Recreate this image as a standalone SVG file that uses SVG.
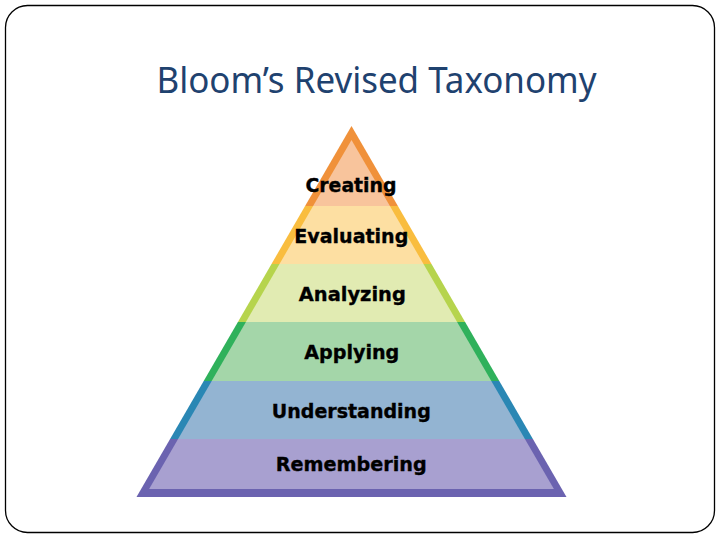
<svg xmlns="http://www.w3.org/2000/svg" width="720" height="540" viewBox="0 0 720 540">
<style>
.lbl{font-family:"DejaVu Sans",Verdana,sans-serif;font-weight:bold;font-size:19.5px;fill:#000;stroke:#000;stroke-width:0.35;text-anchor:middle}
.title{font-family:"Noto Sans","Open Sans",sans-serif;font-size:36px;fill:#1F426F;text-anchor:middle}
</style>
<rect x="5.5" y="5.5" width="709" height="527" rx="22" ry="22" fill="#fff" stroke="#000" stroke-width="1.3"/>
<text class="title" x="376.5" y="92.5" textLength="440" lengthAdjust="spacingAndGlyphs">Bloom’s Revised Taxonomy</text>
<g id="pyramid">
<g id="creating">
<polygon points="351.5,126 397.9,206 305.1,206" fill="#F0913A"/>
<polygon points="351.5,140 389.9,206 313.1,206" fill="#F8C49C"/>
<text class="lbl" x="351" y="192" textLength="91" lengthAdjust="spacingAndGlyphs">Creating</text>
</g>
<g id="evaluating">
<polygon points="305.1,206 397.9,206 431.5,264 271.5,264" fill="#F9BD3F"/>
<polygon points="313.1,206 389.9,206 423.5,264 279.5,264" fill="#FDDFA2"/>
<text class="lbl" x="351.3" y="243" textLength="114" lengthAdjust="spacingAndGlyphs">Evaluating</text>
</g>
<g id="analyzing">
<polygon points="271.5,264 431.5,264 465.1,322 237.9,322" fill="#B6D44D"/>
<polygon points="279.5,264 423.5,264 457.1,322 245.9,322" fill="#E1EBB2"/>
<text class="lbl" x="352.3" y="301" textLength="107" lengthAdjust="spacingAndGlyphs">Analyzing</text>
</g>
<g id="applying">
<polygon points="237.9,322 465.1,322 499.3,381 203.7,381" fill="#2FB15B"/>
<polygon points="245.9,322 457.1,322 491.3,381 211.7,381" fill="#A4D6A9"/>
<text class="lbl" x="351.8" y="359" textLength="95" lengthAdjust="spacingAndGlyphs">Applying</text>
</g>
<g id="understanding">
<polygon points="203.7,381 499.3,381 532.9,439 170.1,439" fill="#2A87B4"/>
<polygon points="211.7,381 491.3,381 524.9,439 178.1,439" fill="#93B4D2"/>
<text class="lbl" x="351.3" y="418" textLength="159" lengthAdjust="spacingAndGlyphs">Understanding</text>
</g>
<g id="remembering">
<polygon points="170.1,439 532.9,439 566.5,497 136.5,497" fill="#6B63B0"/>
<polygon points="178.1,439 524.9,439 553.9,489 149.1,489" fill="#A8A0D0"/>
<text class="lbl" x="351.2" y="471" textLength="151" lengthAdjust="spacingAndGlyphs">Remembering</text>
</g>
</g>
<g id="connectors"/>
</svg>
